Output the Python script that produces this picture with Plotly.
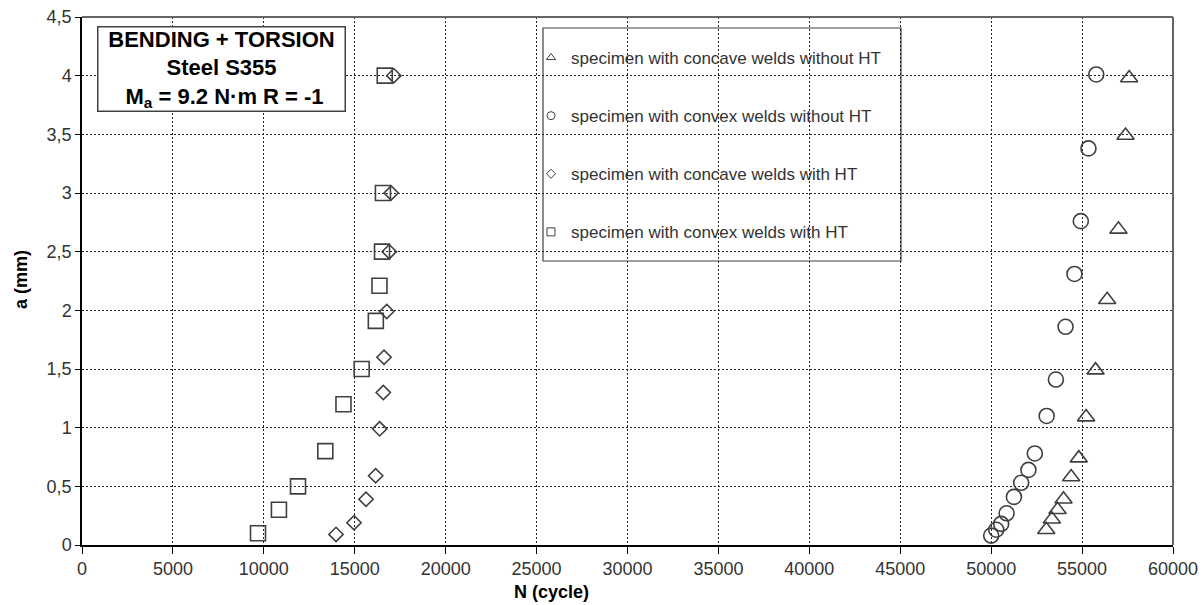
import plotly.graph_objects as go

# ---- data ----
N_concave_noHT = [53030, 53340, 53650, 53980, 54400, 54820, 55220, 55740, 56380, 57000, 57390, 57590]
a_concave_noHT = [0.13, 0.22, 0.30, 0.39, 0.58, 0.74, 1.09, 1.49, 2.09, 2.69, 3.49, 3.98]

N_convex_noHT = [50000, 50280, 50550, 50850, 51250, 51650, 52050, 52400, 53050, 53560, 54090, 54580, 54930, 55350, 55780]
a_convex_noHT = [0.08, 0.13, 0.18, 0.27, 0.41, 0.53, 0.64, 0.78, 1.10, 1.41, 1.86, 2.31, 2.76, 3.38, 4.01]

N_concave_HT = [13970, 14960, 15620, 16150, 16370, 16570, 16610, 16760, 16900, 17000, 17150]
a_concave_HT = [0.09, 0.19, 0.39, 0.59, 0.99, 1.30, 1.60, 1.99, 2.50, 3.00, 4.00]

N_convex_HT = [9680, 10830, 11880, 13380, 14380, 15380, 16160, 16360, 16500, 16550, 16650]
a_convex_HT = [0.10, 0.30, 0.50, 0.80, 1.20, 1.50, 1.91, 2.21, 2.50, 3.00, 4.00]

series_names = [
    "specimen with concave welds without HT",
    "specimen with convex welds without HT",
    "specimen with concave welds with HT",
    "specimen with convex welds with HT",
]

x_tickvals = list(range(0, 60001, 5000))
y_tickvals = [0, 0.5, 1, 1.5, 2, 2.5, 3, 3.5, 4, 4.5]
y_ticktext = ["0", "0,5", "1", "1,5", "2", "2,5", "3", "3,5", "4", "4,5"]

FONT = "Liberation Sans, Arial, sans-serif"
MCOL = "#404040"

fig = go.Figure()

specs = [
    (N_concave_noHT, a_concave_noHT, "triangle-up-open", 15),
    (N_convex_noHT, a_convex_noHT, "circle-open", 15),
    (N_concave_HT, a_concave_HT, "diamond-open", 11),
    (N_convex_HT, a_convex_HT, "square-open", 15),
]

for (xs, ys, sym, sz), name in zip(specs, series_names):
    fig.add_trace(go.Scatter(
        x=xs, y=ys, mode="markers", name=name, showlegend=False,
        marker=dict(symbol=sym, size=sz, color=MCOL, line=dict(color=MCOL, width=1.6)),
    ))

# legend-only entries with small symbols
for i, ((xs, ys, sym, sz), name) in enumerate(zip(specs, series_names)):
    fig.add_trace(go.Scatter(
        x=[None], y=[None], mode="markers", name=name, legendgroup=f"g{i}",
        marker=dict(symbol=sym, size=8 if sym != "diamond-open" else 7, color=MCOL,
                    line=dict(color=MCOL, width=1)),
    ))

L, R, T, B = 82, 1173, 17, 545
W, H = R - L, B - T
def px(xp):
    return (xp - L) / W
def py(yp):
    return (B - yp) / H

fig.update_layout(
    width=1203, height=605,
    margin=dict(l=L, r=1203 - R, t=T, b=605 - B, autoexpand=False),
    paper_bgcolor="white", plot_bgcolor="white",
    font=dict(family=FONT, size=18, color="#333333"),
    showlegend=True,
    legend=dict(
        x=px(531), y=py(40), xanchor="left", yanchor="top",
        bgcolor="rgba(0,0,0,0)", borderwidth=0,
        font=dict(family=FONT, size=17, color="#333333"),
        traceorder="grouped", tracegroupgap=33, itemsizing="trace",
    ),
    xaxis=dict(
        range=[0, 60000], tickvals=x_tickvals, ticktext=[str(v) for v in x_tickvals],
        showgrid=True, gridcolor="#222222", gridwidth=1, griddash="2px,2px",
        showline=True, linecolor="#000000", linewidth=1.5,
        ticks="outside", ticklen=7, tickcolor="#000000", tickwidth=1,
        zeroline=False, tickfont=dict(size=18, color="#333333"), automargin=False,
    ),
    yaxis=dict(
        range=[0, 4.5], tickvals=y_tickvals, ticktext=y_ticktext,
        showgrid=True, gridcolor="#222222", gridwidth=1, griddash="2px,2px",
        showline=True, linecolor="#000000", linewidth=1.5,
        ticks="outside", ticklen=5, tickcolor="#000000", tickwidth=1,
        zeroline=False, tickfont=dict(size=18, color="#333333"), automargin=False,
    ),
    shapes=[
        # top and right frame
        dict(type="line", xref="paper", yref="paper", x0=0, x1=1, y0=1, y1=1,
             line=dict(color="#666666", width=2), layer="above"),
        dict(type="line", xref="paper", yref="paper", x0=1, x1=1, y0=0, y1=1,
             line=dict(color="#666666", width=2), layer="above"),
        # legend box
        dict(type="rect", xref="paper", yref="paper",
             x0=px(543), x1=px(901), y0=py(261), y1=py(28),
             fillcolor="white", line=dict(color="#404040", width=1.2), layer="between"),
    ],
    annotations=[
        dict(xref="paper", yref="paper", x=px(221), y=py(68.5), xanchor="center", yanchor="middle",
             text="<b>BENDING + TORSION<br>Steel S355<br> M<sub>a</sub> = 9.2 N·m R = -1</b>",
             showarrow=False, align="center", font=dict(family=FONT, size=22, color="#000000"),
             bgcolor="white", bordercolor="#404040", borderwidth=1.5, borderpad=1,
             width=244, height=81),
        dict(xref="paper", yref="paper", x=px(551), y=py(592), xanchor="center", yanchor="middle",
             text="<b>N (cycle)</b>", showarrow=False,
             font=dict(family=FONT, size=18, color="#000000")),
        dict(xref="paper", yref="paper", x=px(21), y=py(280), xanchor="center", yanchor="middle",
             text="<b>a (mm)</b>", showarrow=False, textangle=-90,
             font=dict(family=FONT, size=18, color="#000000")),
    ],
)

fig.write_html("out.html", config={"displayModeBar": False, "responsive": False},
               post_script="document.body.style.margin='0';document.body.style.overflow='hidden';")
